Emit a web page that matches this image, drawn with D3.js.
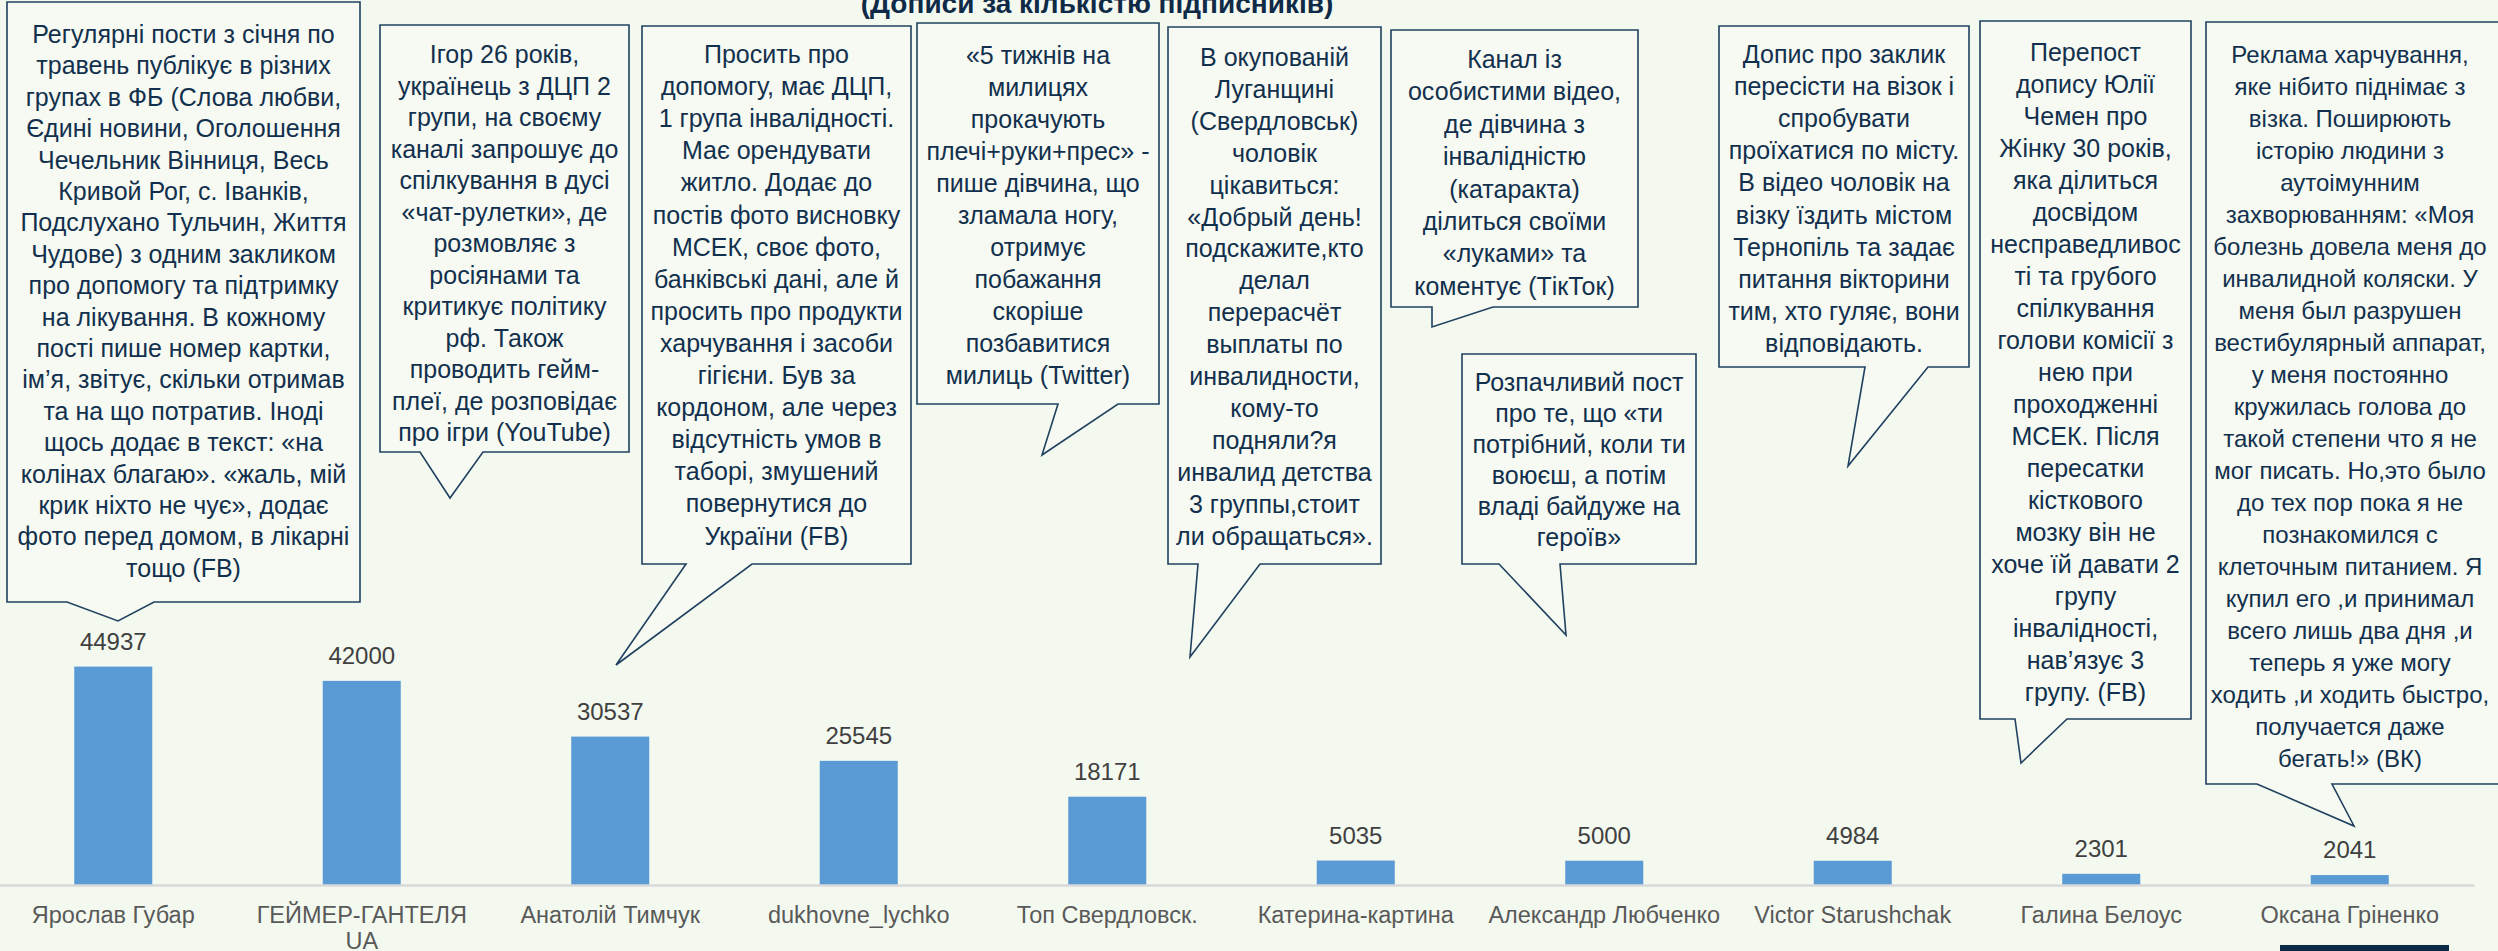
<!DOCTYPE html>
<html>
<head>
<meta charset="utf-8">
<script src="https://cdn.jsdelivr.net/npm/d3@7"></script>
<style>
  html, body { margin: 0; padding: 0; background: #F4F9F0; overflow: hidden; }
  svg { display: block; }
  .note-box { fill: #F6FAF2; stroke: #20415F; stroke-width: 1.6; }
  .note-text { font-family: "Liberation Sans", Arial, sans-serif; fill: #12304D; }
  .value { font-family: "Liberation Sans", Arial, sans-serif; font-size: 24px; fill: #404040; }
  .axis text { font-family: "Liberation Sans", Arial, sans-serif; font-size: 23.5px; fill: #595959; }
</style>
</head>
<body>
<svg id="chart" width="2498" height="951"></svg>
<script>
const title = "(Дописи за кількістю підписників)";

const categories = [
    "Ярослав Губар", "ГЕЙМЕР-ГАНТЕЛЯ UA", "Анатолій Тимчук", "dukhovne_lychko",
    "Топ Свердловск.", "Катерина-картина", "Александр Любченко",
    "Victor Starushchak", "Галина Белоус", "Оксана Гріненко"
];

const subscribers = [44937, 42000, 30537, 25545, 18171, 5035, 5000, 4984, 2301, 2041];

// text of each callout, line by line as in the original slide
const notes = [
    ["Регулярні пости з січня по", "травень публікує в різних", "групах в ФБ (Слова любви,",
     "Єдині новини, Оголошення", "Чечельник Вінниця, Весь", "Кривой Рог, с. Іванків,",
     "Подслухано Тульчин, Життя", "Чудове) з одним закликом", "про допомогу та підтримку",
     "на лікування. В кожному", "пості пише номер картки,", "ім’я, звітує, скільки отримав",
     "та на що потратив. Іноді", "щось додає в текст: «на", "колінах благаю». «жаль, мій",
     "крик ніхто не чує», додає", "фото перед домом, в лікарні", "тощо (FB)"],
    ["Ігор 26 років,", "українець з ДЦП 2", "групи, на своєму", "каналі запрошує до",
     "спілкування в дусі", "«чат-рулетки», де", "розмовляє з", "росіянами та",
     "критикує політику", "рф. Також", "проводить гейм-", "плеї, де розповідає",
     "про ігри (YouTube)"],
    ["Просить про", "допомогу, має ДЦП,", "1 група інвалідності.", "Має орендувати",
     "житло. Додає до", "постів фото висновку", "МСЕК, своє фото,", "банківські дані, але й",
     "просить про продукти", "харчування і засоби", "гігієни. Був за", "кордоном, але через",
     "відсутність умов в", "таборі, змушений", "повернутися до", "України (FB)"],
    ["«5 тижнів на", "милицях", "прокачують", "плечі+руки+прес» -", "пише дівчина, що",
     "зламала ногу,", "отримує", "побажання", "скоріше", "позбавитися", "милиць (Twitter)"],
    ["В окупованій", "Луганщині", "(Свердловськ)", "чоловік", "цікавиться:", "«Добрый день!",
     "подскажите,кто", "делал", "перерасчёт", "выплаты по", "инвалидности,", "кому-то",
     "подняли?я", "инвалид детства", "3 группы,стоит", "ли обращаться»."],
    ["Канал із", "особистими відео,", "де дівчина з", "інвалідністю", "(катаракта)",
     "ділиться своїми", "«луками» та", "коментує (ТікТок)"],
    ["Розпачливий пост", "про те, що «ти", "потрібний, коли ти", "воюєш, а потім",
     "владі байдуже на", "героїв»"],
    ["Допис про заклик", "пересісти на візок і", "спробувати", "проїхатися по місту.",
     "В відео чоловік на", "візку їздить містом", "Тернопіль та задає", "питання вікторини",
     "тим, хто гуляє, вони", "відповідають."],
    ["Перепост", "допису Юлії", "Чемен про", "Жінку 30 років,", "яка ділиться", "досвідом",
     "несправедливос", "ті та грубого", "спілкування", "голови комісії з", "нею при",
     "проходженні", "МСЕК. Після", "пересатки", "кісткового", "мозку він не",
     "хоче їй давати 2", "групу", "інвалідності,", "нав’язує 3", "групу. (FB)"],
    ["Реклама харчування,", "яке нібито піднімає з", "візка. Поширюють", "історію людини з",
     "аутоімунним", "захворюванням: «Моя", "болезнь довела меня до", "инвалидной коляски. У",
     "меня был разрушен", "вестибулярный аппарат,", "у меня постоянно",
     "кружилась голова до", "такой степени что я не", "мог писать. Но,это было",
     "до тех пор пока я не", "познакомился с", "клеточным питанием. Я",
     "купил его ,и принимал", "всего лишь два дня ,и", "теперь я уже могу",
     "ходить ,и ходить быстро,", "получается даже", "бегать!» (ВК)"]
];

// callout geometry: box edges, notch on the bottom edge, pointer tip,
// first text line, line gap, text centre and font size
const noteLayout = [
    { x0: 7,    x1: 360,  y0: 2,   y1: 602, n0: 67,   n1: 154,  tip: [118, 621],  first: 34,  gap: 31.4 },
    { x0: 380,  x1: 629,  y0: 25,  y1: 452, n0: 420,  n1: 483,  tip: [450, 498],  first: 54,  gap: 31.5 },
    { x0: 642,  x1: 911,  y0: 26,  y1: 564, n0: 686,  n1: 752,  tip: [616, 665],  first: 54,  gap: 32.1 },
    { x0: 917,  x1: 1159, y0: 23,  y1: 404, n0: 1058, n1: 1118, tip: [1042, 455], first: 55,  gap: 32 },
    { x0: 1168, x1: 1381, y0: 27,  y1: 564, n0: 1198, n1: 1260, tip: [1190, 657], first: 57,  gap: 31.9 },
    { x0: 1391, x1: 1638, y0: 30,  y1: 307, n0: 1432, n1: 1493, tip: [1432, 327], first: 59,  gap: 32.4 },
    { x0: 1462, x1: 1696, y0: 354, y1: 564, n0: 1499, n1: 1560, tip: [1566, 635], first: 382, gap: 31 },
    { x0: 1719, x1: 1969, y0: 26,  y1: 367, n0: 1865, n1: 1928, tip: [1848, 466], first: 54,  gap: 32.1 },
    { x0: 1980, x1: 2191, y0: 21,  y1: 719, n0: 2015, n1: 2067, tip: [2021, 763], first: 52,  gap: 32 },
    { x0: 2206, x1: 2510, y0: 22,  y1: 784, n0: 2257, n1: 2332, tip: [2354, 826], first: 54,  gap: 32,
      cx: 2350, size: 24 }
];

const svg = d3.select("#chart");
const baseY = 885;

const x = d3.scaleBand()
    .domain(categories)
    .range([-11, 2474])
    .paddingInner(0.686)
    .paddingOuter(0.343);

const y = d3.scaleLinear()
    .domain([0, 50000])
    .range([baseY, 642]);

const rows = categories.map((c, i) => ({ name: c, value: subscribers[i] }));

// title sits half off the top edge, as on the slide
svg.append("text")
    .attr("x", 1097)
    .attr("y", 13)
    .attr("text-anchor", "middle")
    .style("font-family", "'Liberation Sans', Arial, sans-serif")
    .style("font-size", "28px")
    .style("font-weight", "bold")
    .style("fill", "#0E2A47")
    .text(title);

svg.append("g")
    .selectAll("rect")
    .data(rows)
    .join("rect")
    .attr("x", d => x(d.name))
    .attr("y", d => y(d.value))
    .attr("width", x.bandwidth())
    .attr("height", d => baseY - y(d.value))
    .attr("fill", "#5B9BD5");

svg.append("g")
    .selectAll("text")
    .data(rows)
    .join("text")
    .classed("value", true)
    .attr("x", d => x(d.name) + x.bandwidth() / 2)
    .attr("y", d => y(d.value) - 17)
    .attr("text-anchor", "middle")
    .text(d => d.value);

function wrap(text, width) {
    text.each(function () {
        const t = d3.select(this);
        const words = t.text().split(/\s+/);
        const y0 = t.attr("y"), dy = parseFloat(t.attr("dy"));
        let line = [];
        let tspan = t.text(null).append("tspan").attr("x", 0).attr("y", y0).attr("dy", dy + "em");
        let n = 0;
        words.forEach(w => {
            line.push(w);
            tspan.text(line.join(" "));
            if (tspan.node().getComputedTextLength() > width && line.length > 1) {
                line.pop();
                tspan.text(line.join(" "));
                line = [w];
                n++;
                tspan = t.append("tspan").attr("x", 0).attr("y", y0)
                    .attr("dy", (n * 1.1 + dy) + "em").text(w);
            }
        });
    });
}

const axis = svg.append("g")
    .attr("class", "axis")
    .attr("transform", `translate(0,${baseY})`)
    .call(d3.axisBottom(x).tickSize(0).tickPadding(21));

axis.select(".domain")
    .attr("stroke", "#D9D9D9")
    .attr("stroke-width", 2.5);

axis.selectAll(".tick text").call(wrap, 240);

// callouts drawn last so they sit over everything
const callouts = svg.append("g")
    .selectAll("g")
    .data(noteLayout.map((l, i) => ({ ...l, lines: notes[i] })))
    .join("g");

callouts.append("path")
    .classed("note-box", true)
    .attr("d", d => `M${d.x0},${d.y0}H${d.x1}V${d.y1}H${d.n1}L${d.tip[0]},${d.tip[1]}L${d.n0},${d.y1}H${d.x0}Z`);

callouts.append("text")
    .classed("note-text", true)
    .attr("text-anchor", "middle")
    .style("font-size", d => (d.size || 25) + "px")
    .selectAll("tspan")
    .data(d => d.lines.map((s, i) => ({
        s,
        cx: d.cx || (d.x0 + d.x1) / 2,
        cy: d.first + i * d.gap
    })))
    .join("tspan")
    .attr("x", d => d.cx)
    .attr("y", d => d.cy + 9)
    .text(d => d.s);

// small dark strip in the bottom right corner of the slide
svg.append("rect")
    .attr("x", 2280)
    .attr("y", 945)
    .attr("width", 169)
    .attr("height", 6)
    .attr("fill", "#0B2A45");
</script>
</body>
</html>
